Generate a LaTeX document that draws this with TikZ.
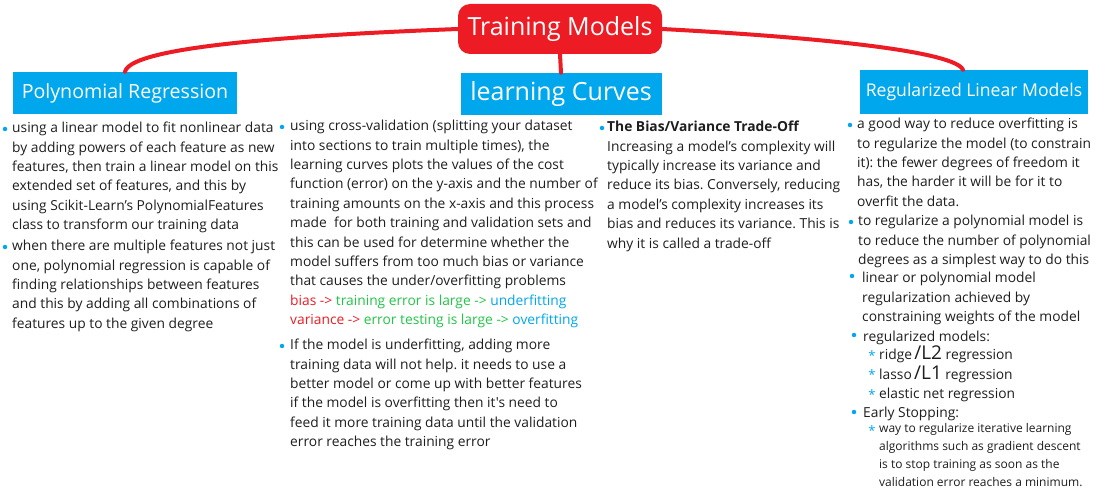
\documentclass[tikz,border=0pt]{standalone}
\usepackage{fontspec}
\newfontfamily\osans{Open Sans}
\usetikzlibrary{positioning}
\definecolor{mmred}{RGB}{237,28,36}
\definecolor{mmblue}{RGB}{0,167,236}
\definecolor{mmgreen}{RGB}{34,197,72}
\definecolor{mmtxt}{RGB}{30,30,30}
\newcommand{\fs}[2]{\fontsize{#1}{#2}\selectfont}
\frenchspacing

\begin{document}
\begin{tikzpicture}[x=1pt,y=-1pt,
  topic/.style={fill=mmblue,text=white,inner sep=0pt,minimum height=42pt},
  txt/.style={anchor=north west,inner sep=0pt,align=left,text=mmtxt,font=\osans\fs{13.8}{19.4}},
  dot/.style={circle,fill=mmblue,inner sep=0pt,minimum size=4.5pt},
  star/.style={text=mmblue,inner sep=0pt,font=\osans\fs{13}{13}},
  link/.style={draw=mmred,line width=4pt,line cap=round}]
\useasboundingbox[fill=white] (0,0) rectangle (1096,492);

% centre and the three topics
\node[fill=mmred,text=white,rounded corners=12pt,minimum width=204pt,minimum height=50pt,font=\osans\fs{25}{25}] (title) at (560,29) {Training Models};
\node[topic,minimum width=224pt,font=\osans\fs{19.6}{19.6}] (poly) at (125,93) {Polynomial Regression};
\node[topic,minimum width=201pt,font=\osans\fs{25}{25}] (lc) at (561,94) {learning Curves};
\node[topic,minimum width=228pt,minimum height=44pt,font=\osans\fs{17.6}{17.6}] (rlm) at (974,92) {Regularized Linear Models};

\draw[link] (title.west) .. controls (250,37) and (130,50) .. (poly.north);
\draw[link] (title.south) -- (lc.north);
\draw[link] (title.east) .. controls (830,38) and (955,52) .. ([xshift=-11pt]rlm.north);

% polynomial regression
\node[dot] (d1) at (5,129) {};
\node[txt] (p1) at (12,122) {using a linear model to fit nonlinear data\\by adding powers of each feature as new\\features, then train a linear model on this\\extended set of features, and this by\\using Scikit-Learn’s PolynomialFeatures\\class to transform our training data};
\node[dot] (d2) at (5,247) {};
\node[txt] (p2) at (12,240) {when there are multiple features not just\\one, polynomial regression is capable of\\finding relationships between features\\and this by adding all combinations of\\features up to the given degree};

% learning curves
\node[dot] (d3) at (282,127) {};
\node[txt] (c1) at (290,120) {using cross-validation (splitting your dataset\\into sections to train multiple times), the\\learning curves plots the values of the cost\\function (error) on the y-axis and the number of\\training amounts on the x-axis and this process\\made\ \ for both training and validation sets and\\this can be used for determine whether the\\model suffers from too much bias or variance\\that causes the under/overfitting problems\\
  \textcolor{mmred}{bias ->} \textcolor{mmgreen}{training error is large ->} \textcolor{mmblue}{underfitting}\\
  \textcolor{mmred}{variance ->} \textcolor{mmgreen}{error testing is large ->} \textcolor{mmblue}{overfitting}};
\node[dot] (d4) at (282,346) {};
\node[txt] (c2) at (290,339) {If the model is underfitting, adding more\\training data will not help. it needs to use a\\better model or come up with better features\\if the model is overfitting then it's need to\\feed it more training data until the validation\\error reaches the training error};

\node[dot] (d5) at (602,128) {};
\node[txt] (c3) at (607,121) {\textbf{The Bias/Variance Trade-Off}\\Increasing a model’s complexity will\\typically increase its variance and\\reduce its bias. Conversely, reducing\\a model’s complexity increases its\\bias and reduces its variance. This is\\why it is called a trade-off};

% regularized linear models
\node[dot] (d6) at (850,125) {};
\node[txt] (r1) at (857,118) {a good way to reduce overfitting is\\to regularize the model (to constrain\\it): the fewer degrees of freedom it\\has, the harder it will be for it to\\overfit the data.};
\node[dot] (d7) at (851,222) {};
\node[txt] (r2) at (858,215) {to regularize a polynomial model is\\to reduce the number of polynomial\\degrees as a simplest way to do this};
\node[dot] (d8) at (852,276) {};
\node[txt] (r3) at (862,272) {linear or polynomial model\\regularization achieved by\\constraining weights of the model};
\node[dot] (d9) at (854,335) {};
\node[txt] (r4) at (863,331) {regularized models:};
\node[star] (s1) at (872,356) {*};
\node[txt] (r5) at (879,349) {ridge\,\smash{\fs{19}{19}/L2} regression\\lasso\,\smash{\fs{19}{19}/L1} regression\\elastic net regression};
\node[dot] (d10) at (854,412) {};
\node[txt] (r6) at (863,407) {Early Stopping:};
\node[star] (s2) at (872,375) {*};
\node[star] (s3) at (872,395) {*};
\node[star] (s4) at (872,431) {*};
\node[txt,font=\osans\fs{12}{18}] (r7) at (879,423) {way to regularize iterative learning\\algorithms such as gradient descent\\is to stop training as soon as the\\validation error reaches a minimum.};
\end{tikzpicture}
\end{document}
